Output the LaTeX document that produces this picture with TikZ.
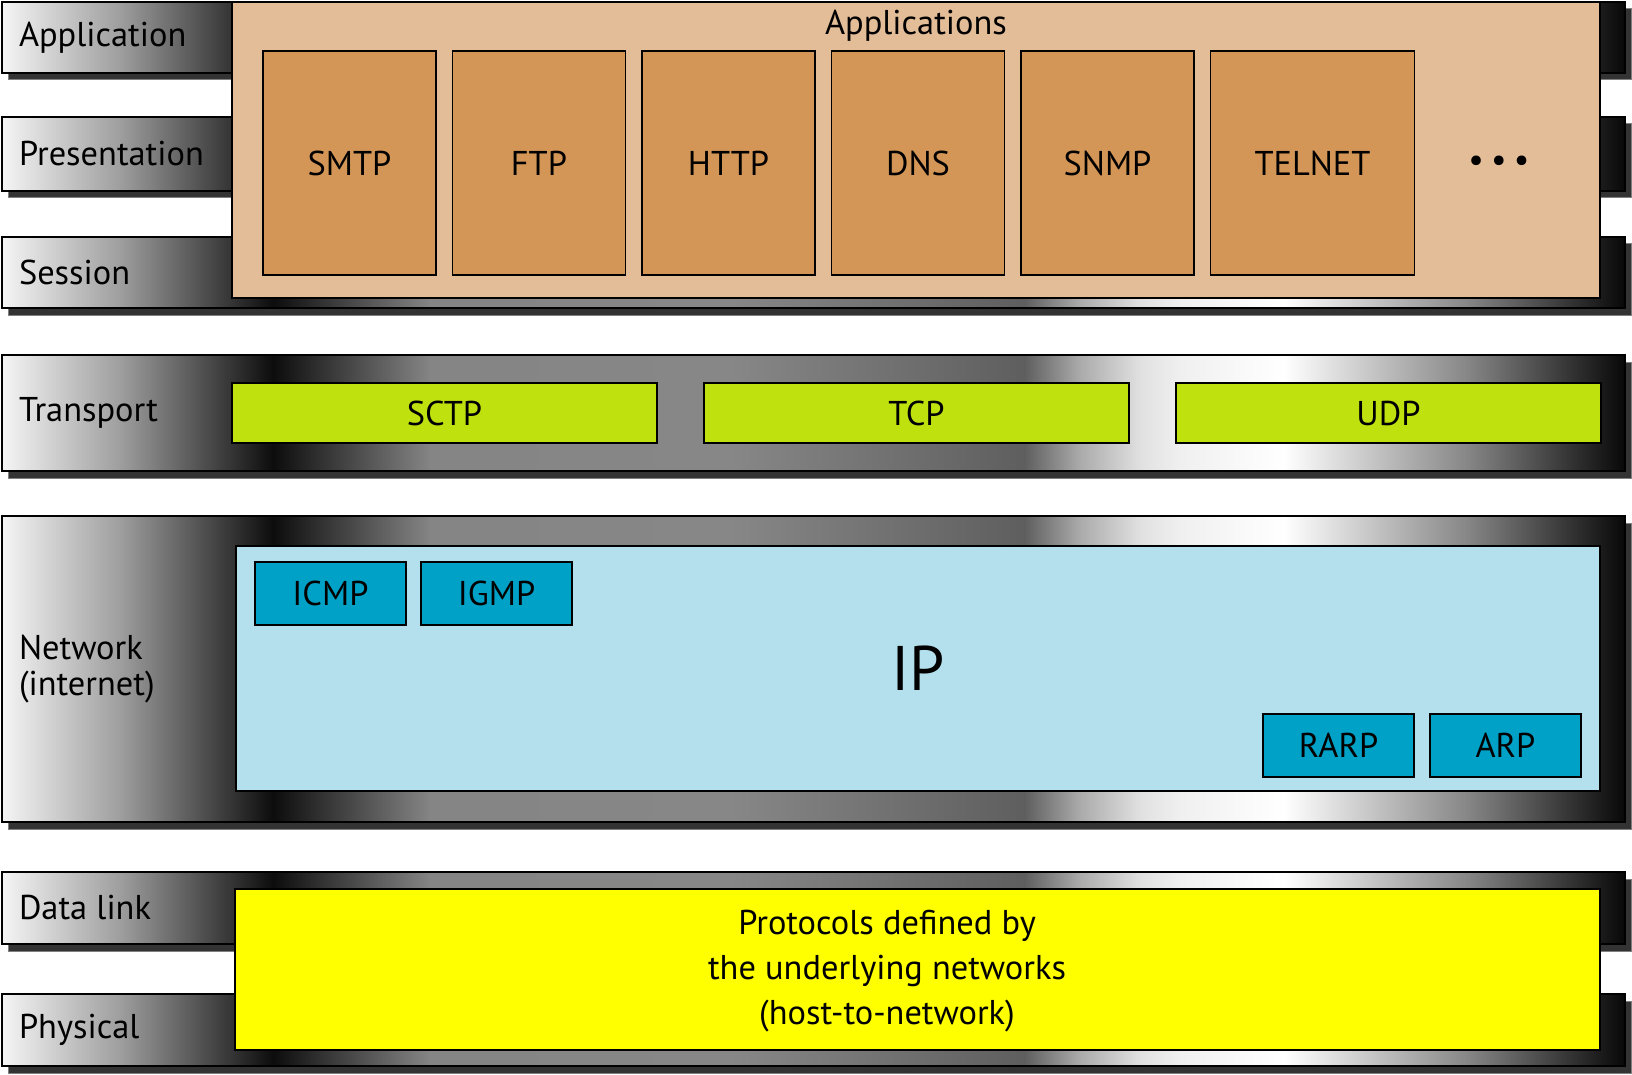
\documentclass[tikz,border=0pt]{standalone}
\usepackage{fontspec}
\setmainfont{PT Sans}
\usepackage{tikz}
\usetikzlibrary{positioning,shadows}

\definecolor{appback}{RGB}{227,189,152}
\definecolor{appfill}{RGB}{212,150,86}
\definecolor{transfill}{RGB}{191,226,14}
\definecolor{ipback}{RGB}{179,224,236}
\definecolor{ipfill}{RGB}{0,161,198}
\definecolor{linkfill}{RGB}{255,255,0}
\definecolor{shadowgray}{RGB}{51,51,51}

\pgfdeclarehorizontalshading{barshade}{100bp}{rgb(0bp)=(.96,.96,.96); rgb(25bp)=(.96,.96,.96);
  rgb(28.64bp)=(.62,.62,.62); rgb(33.35bp)=(.05,.05,.05); rgb(38.19bp)=(.52,.52,.52);
  rgb(47.43bp)=(.53,.53,.53); rgb(56.49bp)=(.37,.37,.37); rgb(58.21bp)=(.67,.67,.67);
  rgb(60.06bp)=(.88,.88,.88); rgb(61.29bp)=(.94,.94,.94); rgb(64.49bp)=(1,1,1);
  rgb(70.1bp)=(.53,.53,.53); rgb(75bp)=(.03,.03,.03); rgb(100bp)=(.03,.03,.03)}

\begin{document}
\begin{tikzpicture}[
    x=0.5pt, y=-0.5pt,
    font=\fontsize{17.2}{22.5}\selectfont,
    inner sep=0pt, outer sep=0pt,
    layerbar/.style={draw, line width=0.75pt, shade, shading=barshade, minimum width=811.5pt,
        drop shadow={shadow xshift=3pt, shadow yshift=-3.5pt, fill=shadowgray, draw=gray, line width=0.5pt, opacity=1}},
    layerback/.style={draw, line width=0.8pt},
    appbox/.style={draw, line width=0.8pt, fill=appfill, minimum width=86.5pt, minimum height=112pt},
    transbox/.style={draw, line width=0.8pt, fill=transfill, minimum width=212.5pt, minimum height=30pt},
    ipbox/.style={draw, line width=0.8pt, fill=ipfill, minimum width=75.5pt, minimum height=31.5pt}
]
\useasboundingbox (0,0) rectangle (1632,1075);

\node[layerbar, minimum height=35.5pt] (app) at (813.5,37.5) {};
\node[layerbar, minimum height=37pt] (pres) at (813.5,154) {};
\node[layerbar, minimum height=35.5pt] (sess) at (813.5,272.5) {};
\node[layerbar, minimum height=58pt] (trans) at (813.5,413) {};
\node[layerbar, minimum height=153pt] (net) at (813.5,669) {};
\node[layerbar, minimum height=36pt] (dlink) at (813.5,908) {};
\node[layerbar, minimum height=36pt] (phys) at (813.5,1030) {};

\node[right=8.5pt of app.west] (applbl) {Application};
\node[right=8.5pt of pres.west] (preslbl) {Presentation};
\node[right=8.5pt of sess.west] (sesslbl) {Session};
\node[right=8.5pt of trans.west] (translbl) {Transport};
\node[right=8.5pt of net.west, align=left, font=\fontsize{17.2}{18.3}\selectfont] (netlbl) {Network\\(internet)};
\node[right=8.5pt of dlink.west] (dlinklbl) {Data link};
\node[right=8.5pt of phys.west] (physlbl) {Physical};

% upper layers
\node[layerback, fill=appback, minimum width=684pt, minimum height=148pt] (apps) at (916,150) {};
\node[anchor=base] (appstitle) at (916,35) {Applications};
\node[appbox] (smtp) at (349.5,163) {SMTP};
\node[appbox, right=8.25pt of smtp] (ftp) {FTP};
\node[appbox, right=8.25pt of ftp] (http) {HTTP};
\node[appbox, right=8.25pt of http] (dns) {DNS};
\node[appbox, right=8.25pt of dns] (snmp) {SNMP};
\node[appbox, right=8.25pt of snmp, minimum width=102pt] (telnet) {TELNET};
\node (dots) at (1499,164) {\textbullet\hspace{3.6pt}\textbullet\hspace{3.6pt}\textbullet};

% transport
\node[transbox] (sctp) at (444.5,413) {SCTP};
\node[transbox, right=23.5pt of sctp] (tcp) {TCP};
\node[transbox, right=23.5pt of tcp] (udp) {UDP};

% network
\node[layerback, fill=ipback, minimum width=682pt, minimum height=122.5pt,
      font=\fontsize{31.5}{36}\selectfont] (ip) at (918,668.5) {IP};
\node[ipbox, below right=8pt and 9.5pt of ip.north west] (icmp) {ICMP};
\node[ipbox, right=7.5pt of icmp] (igmp) {IGMP};
\node[ipbox, above left=7pt and 9.5pt of ip.south east] (arp) {ARP};
\node[ipbox, left=8pt of arp] (rarp) {RARP};

% data link + physical
\node[layerback, fill=linkfill, minimum width=682.5pt, minimum height=80.5pt] (hostnet) at (917.5,969.5) {};
\node[align=center] (hosttext) at (887,971) {Protocols defined by\\the underlying networks\\(host-to-network)};
\end{tikzpicture}
\end{document}
